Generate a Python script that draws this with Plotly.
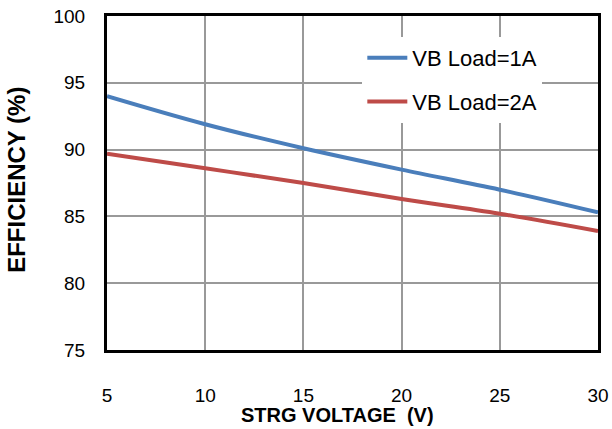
import plotly.graph_objects as go

voltage = [5, 10, 15, 20, 25, 30]
eff_1a = [94.0, 91.9, 90.1, 88.5, 87.0, 85.3]
eff_2a = [89.7, 88.6, 87.5, 86.3, 85.2, 83.9]
x_ticks = [5, 10, 15, 20, 25, 30]
y_ticks = [75, 80, 85, 90, 95, 100]

fig = go.Figure()
fig.add_trace(go.Scatter(x=voltage, y=eff_1a, mode="lines", name="VB Load=1A",
                         legendgroup="a",
                         line=dict(color="#4a7ebb", width=4, shape="spline")))
fig.add_trace(go.Scatter(x=voltage, y=eff_2a, mode="lines", name="VB Load=2A",
                         legendgroup="b",
                         line=dict(color="#be4b48", width=4, shape="spline")))

fig.update_layout(
    width=612, height=429,
    margin=dict(l=107, r=14, t=16, b=79),
    paper_bgcolor="white", plot_bgcolor="white",
    font=dict(family="Liberation Sans, Arial, sans-serif", size=19, color="black"),
    legend=dict(x=0.52, y=0.937, xanchor="left", yanchor="top",
                bgcolor="rgba(255,255,255,1)", font=dict(size=22),
                traceorder="grouped", tracegroupgap=12, itemwidth=40),
    xaxis=dict(range=[5, 30], tickvals=x_ticks, showgrid=True, gridcolor="#999999",
               gridwidth=2, showline=True, linecolor="black", linewidth=3, mirror=True,
               ticks="", ticklabelstandoff=26, zeroline=False, automargin=False),
    yaxis=dict(range=[75, 100], tickvals=y_ticks, showgrid=True, gridcolor="#999999",
               gridwidth=2, showline=True, linecolor="black", linewidth=3, mirror=True,
               ticks="", ticklabelstandoff=15, zeroline=False, automargin=False),
    annotations=[
        dict(text="<b>STRG VOLTAGE  (V)</b>", xref="paper", yref="paper",
             x=0.47, y=-0.196, xanchor="center", yanchor="middle", showarrow=False,
             font=dict(size=20)),
        dict(text="<b>EFFICIENCY (%)</b>", xref="paper", yref="paper",
             x=-0.183, y=0.51, xanchor="center", yanchor="middle", showarrow=False,
             textangle=-90, font=dict(size=24)),
    ],
)

fig.write_html("out.html", post_script="document.body.style.margin='0';",
               config={"displayModeBar": False})
